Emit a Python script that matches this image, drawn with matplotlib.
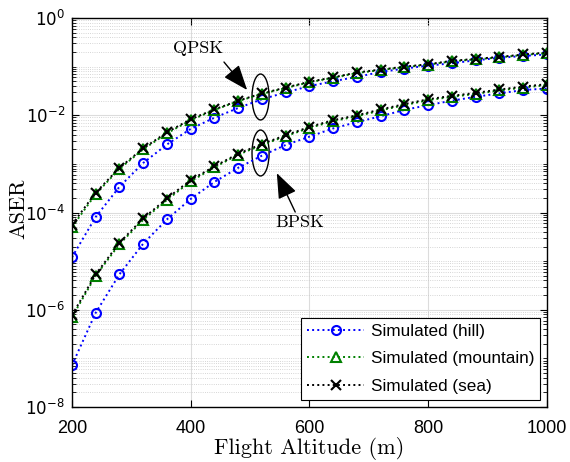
import numpy as np
import matplotlib
matplotlib.use('Agg')
import matplotlib.pyplot as plt
from matplotlib.patches import Ellipse
from matplotlib.ticker import LogLocator, FixedLocator, FuncFormatter, NullFormatter

# Altitudes (m)
altitude = [200, 240, 280, 320, 360, 400, 440, 480, 520, 560, 600,
            640, 680, 720, 760, 800, 840, 880, 920, 960, 1000]

# log10(ASER)
qpsk_hill = [-4.92, -4.09, -3.47, -2.98, -2.60, -2.28, -2.05, -1.85, -1.67, -1.53, -1.40,
             -1.30, -1.21, -1.11, -1.04, -0.98, -0.93, -0.87, -0.82, -0.78, -0.75]
qpsk_mountain = [-4.30, -3.62, -3.10, -2.70, -2.37, -2.10, -1.89, -1.71, -1.56, -1.44, -1.32,
                 -1.23, -1.13, -1.07, -1.01, -0.96, -0.89, -0.85, -0.81, -0.76, -0.72]
qpsk_sea = [-4.25, -3.59, -3.08, -2.68, -2.35, -2.08, -1.88, -1.70, -1.55, -1.43, -1.31,
            -1.22, -1.12, -1.06, -1.00, -0.95, -0.88, -0.84, -0.80, -0.75, -0.71]
bpsk_hill = [-7.14, -6.06, -5.27, -4.64, -4.14, -3.72, -3.37, -3.08, -2.83, -2.61, -2.44,
             -2.27, -2.14, -2.02, -1.89, -1.79, -1.70, -1.62, -1.55, -1.48, -1.45]
bpsk_mountain = [-6.15, -5.30, -4.65, -4.15, -3.74, -3.36, -3.07, -2.81, -2.61, -2.43, -2.26,
                 -2.12, -2.02, -1.90, -1.79, -1.69, -1.62, -1.56, -1.49, -1.43, -1.38]
bpsk_sea = [-6.11, -5.27, -4.62, -4.12, -3.71, -3.33, -3.05, -2.79, -2.59, -2.41, -2.24,
            -2.10, -2.00, -1.88, -1.77, -1.67, -1.60, -1.54, -1.47, -1.41, -1.36]

plt.rcParams['mathtext.fontset'] = 'custom'
plt.rcParams['mathtext.rm'] = 'Liberation Sans'
plt.rcParams['mathtext.it'] = 'Liberation Sans:italic'
plt.rcParams['axes.unicode_minus'] = False

fig = plt.figure(figsize=(5.7, 4.62), dpi=100)
ax = fig.add_axes([0.1263, 0.119, 0.8333, 0.842])

x = np.array(altitude)
estilos = [
    ('blue', 'o', 'Simulated (hill)', qpsk_hill, bpsk_hill),
    ('green', '^', 'Simulated (mountain)', qpsk_mountain, bpsk_mountain),
    ('black', 'x', 'Simulated (sea)', qpsk_sea, bpsk_sea),
]
color_map = {'blue': (0, 0, 1), 'green': (0, 0.5, 0), 'black': (0, 0, 0)}

for nombre, marker, label, qpsk, bpsk in estilos:
    col = color_map[nombre]
    kw = dict(color=col, linestyle=':', linewidth=1.4, marker=marker,
              markersize=6.5, markeredgewidth=1.5,
              markerfacecolor='none' if marker != 'x' else col)
    ax.plot(x, 10.0 ** np.array(qpsk), label=label, **kw)
    ax.plot(x, 10.0 ** np.array(bpsk), **kw)

ax.set_yscale('log')
ax.set_xlim(200, 1000)
ax.set_ylim(1e-8, 1e0)

# Ticks
ax.xaxis.set_major_locator(FixedLocator([200, 400, 600, 800, 1000]))
ax.yaxis.set_major_locator(FixedLocator([1e-8, 1e-6, 1e-4, 1e-2, 1e0]))
ax.yaxis.set_minor_locator(LogLocator(base=10, subs=np.arange(1, 10), numticks=20))
ax.yaxis.set_major_formatter(FuncFormatter(lambda v, p: r'$\mathregular{10^{%d}}$' % round(np.log10(v))))
ax.yaxis.set_minor_formatter(NullFormatter())
ax.tick_params(which='both', direction='in', top=True, right=True)
ax.tick_params(which='major', length=5, width=0.8)
ax.tick_params(which='minor', length=3, width=0.6)
ax.tick_params(axis='x', labelsize=13, pad=9)
ax.tick_params(axis='y', labelsize=12, pad=5)
for lbl in ax.get_xticklabels():
    lbl.set_fontfamily('Liberation Sans')

# Rejilla
ax.grid(True, which='major', color='#dcdcdc', linewidth=0.8, linestyle='-')
ax.yaxis.grid(True, which='minor', color='#c8c8c8', linewidth=0.6, linestyle=':')
ax.set_axisbelow(True)
for s in ax.spines.values():
    s.set_linewidth(1.0)

ax.set_xlabel('Flight Altitude (m)', fontfamily='cmr10', fontsize=16, labelpad=0)
ax.set_ylabel('ASER', fontfamily='cmr10', fontsize=16, labelpad=0)
ax.yaxis.set_label_coords(-0.093, 0.51)

# Elipses y flechas
for cy in (0.797, 0.653):
    ax.add_patch(Ellipse((0.397, cy), 0.036, 0.118, transform=ax.transAxes,
                         fill=False, edgecolor='black', linewidth=1.0))

flecha = dict(arrowstyle='-|>,head_length=1.3,head_width=0.5', color='black',
              linewidth=1.0, shrinkA=0, shrinkB=0, mutation_scale=12)
ax.annotate('', xy=(495, 10 ** -1.48), xytext=(456, 10 ** -0.905), arrowprops=flecha)
ax.annotate('', xy=(545, 10 ** -3.19), xytext=(576, 10 ** -3.99), arrowprops=flecha)
ax.text(412, 10 ** -0.62, 'QPSK', fontfamily='cmr10', fontsize=13, ha='center', va='center')
ax.text(584, 10 ** -4.2, 'BPSK', fontfamily='cmr10', fontsize=13, ha='center', va='center')

leg = ax.legend(loc='lower right', prop={'family': 'Liberation Sans', 'size': 12.3},
                fancybox=False, edgecolor='black', framealpha=1, handlelength=3.3,
                handletextpad=0.4, borderaxespad=0.4, labelspacing=0.75,
                borderpad=0.35)
leg.get_frame().set_linewidth(0.8)

plt.savefig('out.png', dpi=100)
plt.close(fig)
